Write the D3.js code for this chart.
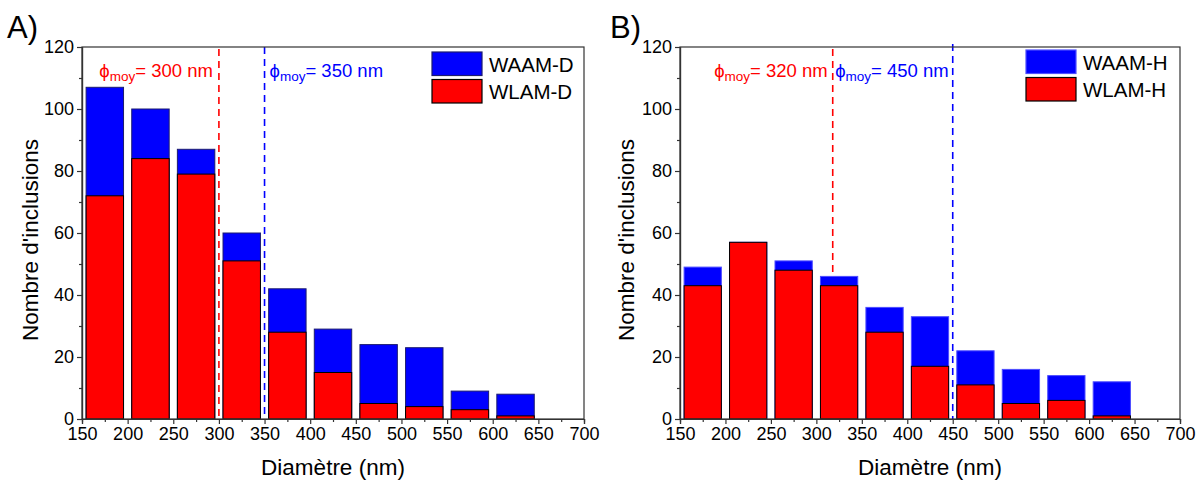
<!DOCTYPE html>
<html>
<head>
<meta charset="utf-8">
<script src="https://cdn.jsdelivr.net/npm/d3@7"></script>
<style>
  html, body { margin: 0; padding: 0; background: #fff; }
  svg { display: block; font-family: "Liberation Sans", Arial, sans-serif; }
</style>
</head>
<body>
<svg id="chart" width="1200" height="481"></svg>
<script>
// ---- data ----
const binCenters = [175, 225, 275, 325, 375, 425, 475, 525, 575, 625];
const waamD = [107, 100, 87, 60, 42, 29, 24, 23, 9, 8];
const wlamD = [72, 84, 79, 51, 28, 15, 5, 4, 3, 1];
const waamH = [49, 57, 51, 46, 36, 33, 22, 16, 14, 12];
const wlamH = [43, 57, 48, 43, 28, 17, 11, 5, 6, 1];
const xTicks = [150, 200, 250, 300, 350, 400, 450, 500, 550, 600, 650, 700];
const yTicks = [0, 20, 40, 60, 80, 100, 120];
const meanLabelsA = ["300", "350"];
const meanLabelsB = ["320", "450"];
const meanPosA = [300, 350];
const meanPosB = [318, 450];
const legendA = ["WAAM-D", "WLAM-D"];
const legendB = ["WAAM-H", "WLAM-H"];

const svg = d3.select("#chart");
const binWidth = 41;
const FONT = "Liberation Sans, Arial, sans-serif";

function drawPanel(opt) {
  const g = svg.append("g");
  const x = d3.scaleLinear().domain([150, 700]).range([opt.left, opt.right]);
  const y = d3.scaleLinear().domain([0, 120]).range([419, 47]);

  // panel letter
  g.append("text").attr("x", opt.letterX).attr("y", 38)
    .attr("font-size", 31).attr("fill", "#000").text(opt.letter);

  // mean lines (behind bars)
  const lineColors = ["#ff0000", "#0000ff"];
  opt.meanPos.forEach((m, i) => {
    g.append("line")
      .attr("x1", x(m)).attr("x2", x(m))
      .attr("y1", opt.lineTop[i]).attr("y2", y(0))
      .attr("stroke", lineColors[i]).attr("stroke-width", 1.6)
      .attr("stroke-dasharray", "7,5");
  });

  // blue bars (WAAM) behind
  g.selectAll("rect.waam").data(binCenters).enter().append("rect")
    .attr("x", (d) => x(d - binWidth / 2))
    .attr("width", (d) => x(d + binWidth / 2) - x(d - binWidth / 2))
    .attr("y", (d, i) => y(opt.waam[i]))
    .attr("height", (d, i) => y(0) - y(opt.waam[i]))
    .attr("fill", "#0000ff")
    .attr("stroke", opt.blueStroke).attr("stroke-width", 1);

  // red bars (WLAM) in front
  g.selectAll("rect.wlam").data(binCenters).enter().append("rect")
    .attr("x", (d) => x(d - binWidth / 2))
    .attr("width", (d) => x(d + binWidth / 2) - x(d - binWidth / 2))
    .attr("y", (d, i) => y(opt.wlam[i]))
    .attr("height", (d, i) => y(0) - y(opt.wlam[i]))
    .attr("fill", "#ff0000")
    .attr("stroke", "#000").attr("stroke-width", 1);

  // frame
  g.append("rect").attr("x", x(150)).attr("y", y(120))
    .attr("width", x(700) - x(150)).attr("height", y(0) - y(120))
    .attr("fill", "none").attr("stroke", "#333").attr("stroke-width", 1.2);

  // axes
  const xAxis = d3.axisBottom(x).tickValues(xTicks).tickSize(5).tickPadding(3);
  const xMinor = d3.axisBottom(x).tickValues(d3.range(175, 700, 50)).tickSize(3).tickFormat("");
  const yAxis = d3.axisLeft(y).tickValues(yTicks).tickSize(5).tickPadding(3);
  const yMinor = d3.axisLeft(y).tickValues(d3.range(10, 120, 20)).tickSize(3).tickFormat("");

  [xAxis, xMinor].forEach((ax) => {
    const a = g.append("g").attr("transform", `translate(0,${y(0)})`).call(ax);
    a.select(".domain").attr("stroke", "#333").attr("stroke-width", 1.2);
    a.selectAll(".tick line").attr("stroke", "#333").attr("stroke-width", 1.2);
    a.selectAll("text").attr("font-size", 18).attr("fill", "#000")
      .attr("font-family", FONT);
  });
  [yAxis, yMinor].forEach((ax) => {
    const a = g.append("g").attr("transform", `translate(${x(150)},0)`).call(ax);
    a.select(".domain").attr("stroke", "#333").attr("stroke-width", 1.2);
    a.selectAll(".tick line").attr("stroke", "#333").attr("stroke-width", 1.2);
    a.selectAll("text").attr("font-size", 18).attr("fill", "#000")
      .attr("font-family", FONT);
  });

  // axis titles
  g.append("text").attr("x", (x(150) + x(700)) / 2).attr("y", 475)
    .attr("text-anchor", "middle").attr("font-size", 22.5).attr("fill", "#000")
    .text("Diamètre (nm)");
  g.append("text")
    .attr("transform", `translate(${opt.yTitleX},${(y(0) + y(120)) / 2 + 7}) rotate(-90)`)
    .attr("text-anchor", "middle").attr("font-size", 22.5).attr("fill", "#000")
    .text("Nombre d'inclusions");

  // mean annotations
  opt.meanPos.forEach((m, i) => {
    const t = g.append("text")
      .attr("x", x(m) + opt.annOffset[i])
      .attr("y", 77)
      .attr("text-anchor", opt.annAnchor[i])
      .attr("font-size", 18.5).attr("fill", lineColors[i]);
    t.append("tspan").text("ϕ");
    t.append("tspan").attr("font-size", 13.5).attr("dy", 4).text("moy");
    t.append("tspan").attr("dy", -4).text("= " + opt.meanLabels[i] + " nm");
  });

  // legend
  const lgX = opt.legendX;
  const colors = ["#0000ff", "#ff0000"];
  const strokes = [opt.legendBlueStroke, "#000"];
  opt.legend.forEach((name, i) => {
    g.append("rect").attr("x", lgX).attr("y", opt.legendY + i * 27.5)
      .attr("width", 50).attr("height", 23.5)
      .attr("fill", colors[i]).attr("stroke", strokes[i]).attr("stroke-width", 1.2);
    g.append("text").attr("x", lgX + 57).attr("y", opt.legendY + i * 27.5 + 19.5)
      .attr("font-size", 20.5).attr("fill", "#000").text(name);
  });
}

drawPanel({
  left: 82, right: 584, letter: "A)", letterX: 7,
  waam: waamD, wlam: wlamD, blueStroke: "#1c1c70",
  meanPos: meanPosA, meanLabels: meanLabelsA,
  lineTop: [49, 47],
  annAnchor: ["end", "start"], annOffset: [-6, 5],
  yTitleX: 38, legendX: 432, legendY: 52, legend: legendA,
  legendBlueStroke: "#1c1c70"
});

drawPanel({
  left: 680, right: 1180, letter: "B)", letterX: 610,
  waam: waamH, wlam: wlamH, blueStroke: "#4d4dff",
  meanPos: meanPosB, meanLabels: meanLabelsB,
  lineTop: [49, 44],
  annAnchor: ["end", "end"], annOffset: [-5, -4],
  yTitleX: 634, legendX: 1026, legendY: 50, legend: legendB,
  legendBlueStroke: "#4d4dff"
});
</script>
</body>
</html>
